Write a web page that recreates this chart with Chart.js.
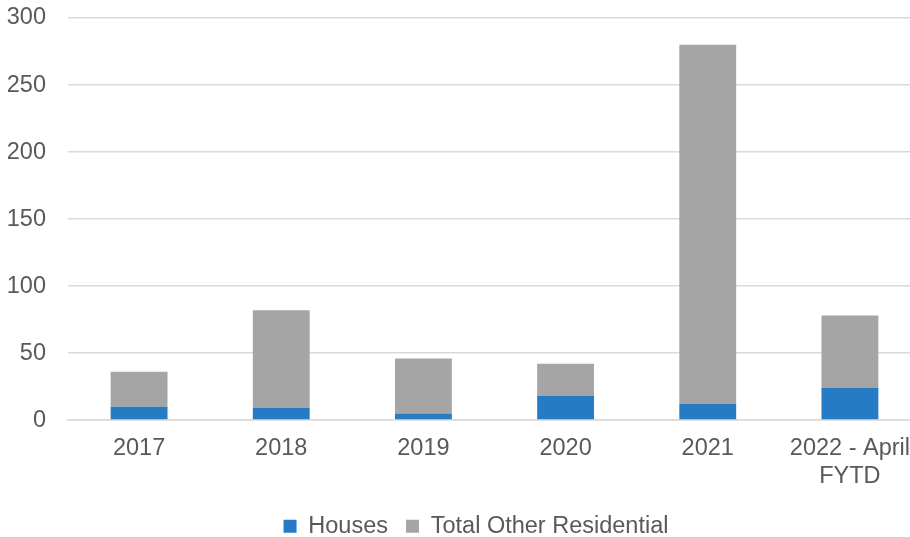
<!DOCTYPE html>
<html><head><meta charset="utf-8">
<script src="https://cdn.jsdelivr.net/npm/chart.js@4"></script>
<style>html,body{margin:0;padding:0;overflow:hidden;background:#fff}#wrap{width:922px;height:548px}</style>
</head><body><div id="wrap"><canvas id="c"></canvas></div>
<script>
const categories = [["2017"],["2018"],["2019"],["2020"],["2021"],["2022 - April","FYTD"]];
const houses = [10, 9, 5, 18, 12, 24];
const otherResidential = [26, 73, 41, 24, 268, 54];
const yTicks = [0, 50, 100, 150, 200, 250, 300];

Chart.defaults.font.family = "'Liberation Sans', Arial, sans-serif";
Chart.defaults.color = '#595959';
const shiftLegend = {
  id: 'shiftLegend',
  afterLayout(chart) { const l = chart.legend; if (l) { l.left += 12; l.right += 12; } }
};
new Chart(document.getElementById('c'), {
  type: 'bar',
  data: {
    labels: categories,
    datasets: [
      {label: 'Houses', data: houses, backgroundColor: '#267BC4', borderWidth: 0},
      {label: 'Total Other Residential', data: otherResidential, backgroundColor: '#A5A5A5', borderWidth: 0}
    ]
  },
  plugins: [shiftLegend],
  options: {
    responsive: true, maintainAspectRatio: false, animation: false,
    layout: {padding: {top: 18, left: 7, right: 1, bottom: 0}},
    datasets: {bar: {barPercentage: 0.4, categoryPercentage: 1}},
    plugins: {
      legend: {position: 'bottom', labels: {boxWidth: 13, boxHeight: 13, padding: 18, font: {size: 23.5}, color: '#595959'}},
      tooltip: {enabled: false}
    },
    scales: {
      x: {stacked: true, grid: {display: false}, border: {color: '#d9d9d9', width: 1.5},
          ticks: {font: {size: 23.5, lineHeight: 1.2}, color: '#595959', padding: 6, maxRotation: 0}},
      y: {stacked: true, min: 0, max: 300, afterBuildTicks: s => { s.ticks = yTicks.map(v => ({value: v})); },
          afterFit: s => { s.width = 61; s.paddingTop = 0; s.paddingBottom = 0; },
          grid: {color: '#d9d9d9', lineWidth: 1.5, drawTicks: false}, border: {display: false},
          ticks: {font: {size: 23.5}, color: '#595959', padding: 22}}
    }
  }
});
</script></body></html>
